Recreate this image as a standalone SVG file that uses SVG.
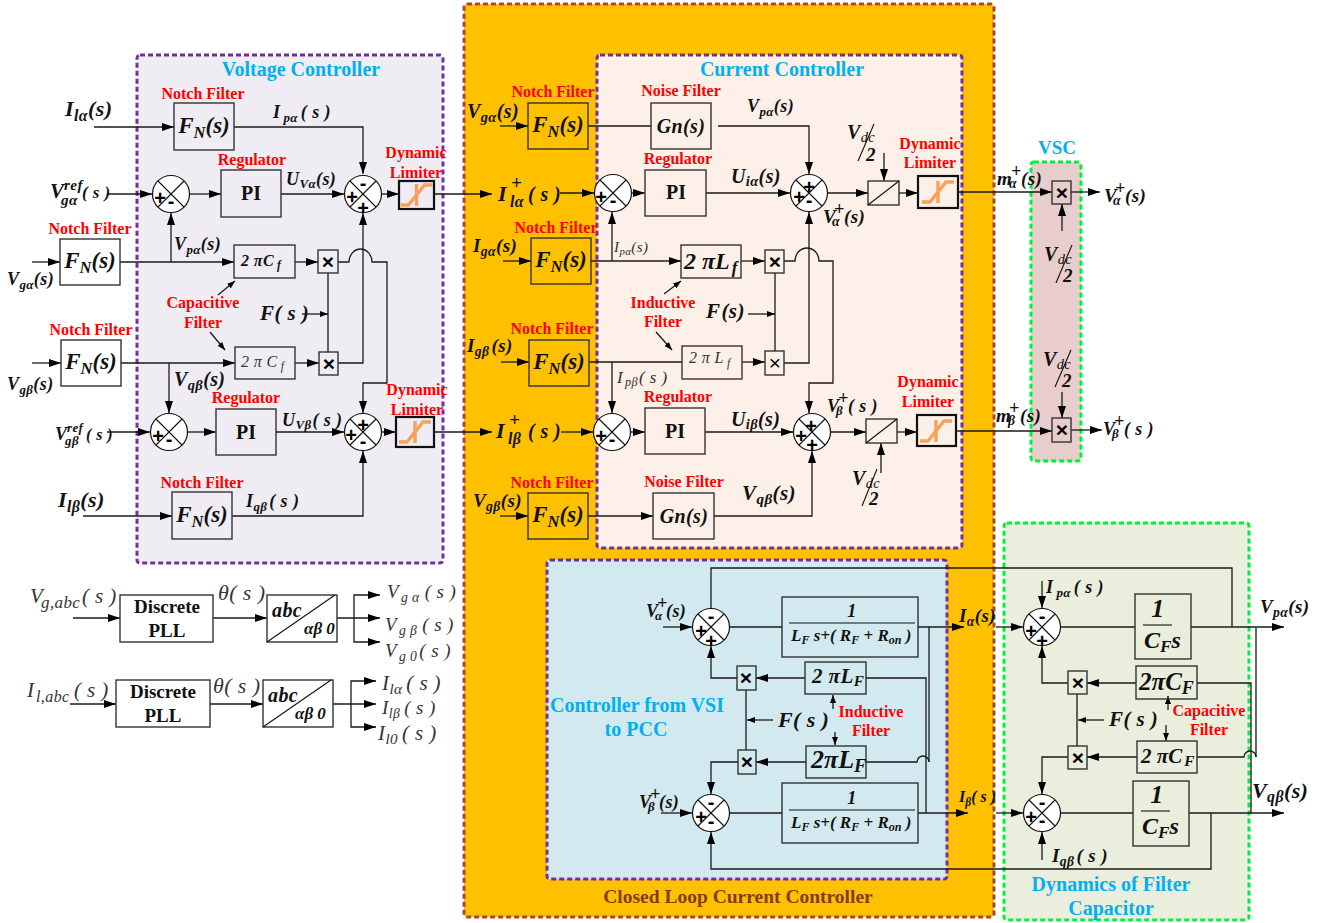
<svg xmlns="http://www.w3.org/2000/svg" width="1317" height="923" viewBox="0 0 1317 923">
<style>
text{font-family:"Liberation Serif","Times New Roman",serif;fill:#111}
.m{font-style:italic;font-weight:bold;font-size:19px;letter-spacing:.4px}
.th{font-style:italic;font-weight:normal;fill:#333;letter-spacing:.4px}
.u{font-size:.72em}
.r{font-weight:bold;font-size:16px;fill:#FF0000;text-anchor:middle}
.t{font-weight:bold;font-size:20px;fill:#00B0F0;text-anchor:middle}
.mid{text-anchor:middle}
.fn{font-size:23px;letter-spacing:0}
.sg{font-family:"Liberation Sans",Arial,sans-serif;font-weight:bold;font-size:20px;text-anchor:middle;fill:#000}
.x{font-family:"Liberation Sans",Arial,sans-serif;font-weight:bold;font-size:21px;text-anchor:middle;fill:#000}
.c{fill:none;stroke:#1a1a1a;stroke-width:1.3}
.a{marker-end:url(#ah)}
.s{marker-end:url(#as)}
.bx{fill:none;stroke:#333;stroke-width:1.4}
.lm{fill:none;stroke:#111;stroke-width:2.2}
.sum{fill:#fff;stroke:#111;stroke-width:1.2}
.pd{stroke:#7030A0;stroke-width:3;stroke-dasharray:5 3}
.gd{stroke:#00F03C;stroke-width:3;stroke-dasharray:5 3}
.fl{fill:none;stroke:#111;stroke-width:1.1}
</style>
<defs>
<marker id="ah" viewBox="0 0 12 8" refX="12" refY="4" markerWidth="12" markerHeight="8" markerUnits="userSpaceOnUse" orient="auto"><path d="M0,0L12,4L0,8z" fill="#000"/></marker>
<marker id="as" viewBox="0 0 8 6" refX="8" refY="3" markerWidth="8" markerHeight="6" markerUnits="userSpaceOnUse" orient="auto"><path d="M0,0L8,3L0,6z" fill="#000"/></marker>
<g id="sumj"><circle r="18.5" class="sum"/><path d="M-13,-13L13,13M13,-13L-13,13" stroke="#111" stroke-width="1.1" fill="none"/></g>
<g id="limi"><path d="M-16,10H-8L8,-10H16M0,-11V11" fill="none" stroke="#F5A35C" stroke-width="3.5"/></g>
</defs>

<g id="containers">
<rect x="464" y="4" width="530" height="913" rx="3" fill="#FFC000" stroke="#A5473A" stroke-width="3" stroke-dasharray="5 3"/>
<rect x="137" y="55" width="306" height="508" rx="3" fill="#EFEDF3" class="pd"/>
<rect x="597" y="55" width="365" height="493" rx="3" fill="#FDF0E8" class="pd"/>
<rect x="547" y="560" width="400" height="319" rx="3" fill="#D2E9EF" class="pd"/>
<rect x="1031" y="162" width="50" height="299" rx="3" fill="#E9CCCC" class="gd"/>
<rect x="1004" y="523" width="245" height="397" rx="3" fill="#EAEEDD" class="gd"/>
</g>

<g id="connectors">
<path class="c a" d="M94,127H174"/>
<path class="c a" d="M234,127H363V174"/>
<path class="c a" d="M107,194H152"/>
<path class="c a" d="M190,194H221"/>
<path class="c a" d="M281,194H344"/>
<path class="c a" d="M382,194H399"/>
<path class="c a" d="M434,194H492"/>
<path class="c a" d="M32,262H60"/>
<path class="c a" d="M120,262H234"/>
<path class="c a" d="M171,262V213"/>
<path class="c a" d="M295,262H318"/>
<path class="c a" d="M338,262H349A11.5,13 0 0 1 372,262H387V383H363V413"/>
<path class="c a" d="M338,363H363V213"/>
<path class="c" d="M328,273V352"/>
<path class="c s" d="M302,314H328"/>
<path class="c s" d="M218,295L235,281"/>
<path class="c s" d="M210,332L225,350"/>
<path class="c a" d="M32,363H61"/>
<path class="c a" d="M121,363H235"/>
<path class="c a" d="M295,363H319"/>
<path class="c a" d="M169,363V413"/>
<path class="c a" d="M107,432H150"/>
<path class="c a" d="M188,432H216"/>
<path class="c a" d="M276,432H344"/>
<path class="c a" d="M382,432H396"/>
<path class="c a" d="M434,432H492"/>
<path class="c a" d="M83,516H172"/>
<path class="c a" d="M232,516H363V451"/>
<path class="c a" d="M500,126H528"/>
<path class="c" d="M588,126H651"/>
<path class="c a" d="M718,126H809V174"/>
<path class="c a" d="M560,193H594"/>
<path class="c a" d="M632,193H645"/>
<path class="c a" d="M706,193H790"/>
<path class="c a" d="M828,193H868"/>
<path class="c a" d="M899,193H918"/>
<path class="c a" d="M958,192H1052"/>
<path class="c a" d="M1071,192H1100"/>
<path class="c a" d="M884,153V181"/>
<path class="c a" d="M503,261H531"/>
<path class="c a" d="M591,261H681"/>
<path class="c a" d="M612,261V212"/>
<path class="c a" d="M741,261H765"/>
<path class="c a" d="M784,261H795A12,13 0 0 1 819,261H833V383H809V413"/>
<path class="c" d="M775,273V351"/>
<path class="c s" d="M748,314H775"/>
<path class="c s" d="M664,294L681,281"/>
<path class="c s" d="M656,332L672,350"/>
<path class="c a" d="M501,362H529"/>
<path class="c" d="M589,362H682"/>
<path class="c a" d="M742,362H765"/>
<path class="c a" d="M784,363H809V212"/>
<path class="c a" d="M612,362V413"/>
<path class="c a" d="M561,432H593"/>
<path class="c a" d="M631,432H645"/>
<path class="c a" d="M705,432H793"/>
<path class="c a" d="M831,432H866"/>
<path class="c a" d="M897,432H917"/>
<path class="c a" d="M956,431H1052"/>
<path class="c a" d="M1071,430H1102"/>
<path class="c a" d="M881,473V443"/>
<path class="c a" d="M1062,231V204"/>
<path class="c a" d="M1062,392V418"/>
<path class="c a" d="M500,516H528"/>
<path class="c a" d="M588,516H653"/>
<path class="c a" d="M714,516H812V451"/>
<path class="c a" d="M73,618H120"/>
<path class="c a" d="M213,618H267"/>
<path class="c a" d="M337,618H380"/>
<path class="c a" d="M354,618V595H380"/>
<path class="c a" d="M354,618V642H380"/>
<path class="c a" d="M70,704H116"/>
<path class="c a" d="M210,704H263"/>
<path class="c a" d="M333,704H376"/>
<path class="c a" d="M351,704V681H376"/>
<path class="c a" d="M351,704V727H376"/>
<path class="c" d="M711,608V568H1232V627"/>
<path class="c a" d="M663,627H692"/>
<path class="c" d="M730,627H782"/>
<path class="c a" d="M918,627H964"/>
<path class="c a" d="M996,627H1023"/>
<path class="c" d="M929,627V762"/>
<path class="c" d="M866,762H917A6,6 0 0 1 929,762"/>
<path class="c" d="M866,678H926V813"/>
<path class="c a" d="M805,678H756"/>
<path class="c a" d="M737,678H711V646"/>
<path class="c a" d="M806,762H756"/>
<path class="c a" d="M738,762H711V794"/>
<path class="c" d="M746,690V750"/>
<path class="c s" d="M773,720H747"/>
<path class="c s" d="M833,709V695"/>
<path class="c s" d="M835,732V745"/>
<path class="c a" d="M661,813H692"/>
<path class="c" d="M730,813H782"/>
<path class="c a" d="M918,813H968"/>
<path class="c a" d="M996,813H1023"/>
<path class="c a" d="M1211,813V869H711V832"/>
<path class="c a" d="M1042,581V608"/>
<path class="c" d="M1061,627H1135"/>
<path class="c a" d="M1191,627H1284"/>
<path d="M1256,627V757" fill="none" stroke="#555" stroke-width="1.8"/>
<path class="c" d="M1197,757H1244A6,6 0 0 1 1256,757"/>
<path class="c" d="M1197,683H1251V813"/>
<path class="c a" d="M1136,683H1087"/>
<path class="c a" d="M1068,683H1042V646"/>
<path class="c a" d="M1137,757H1087"/>
<path class="c a" d="M1068,757H1042V794"/>
<path class="c" d="M1077,694V746"/>
<path class="c s" d="M1104,720H1078"/>
<path class="c s" d="M1168,710V696"/>
<path class="c s" d="M1166,725V741"/>
<path class="c" d="M1061,813H1133"/>
<path class="c a" d="M1189,813H1284"/>
<path class="c a" d="M1042,860V832"/>
</g>

<g id="titles">
<text class="t" x="301" y="76">Voltage Controller</text>
<text class="t" x="782" y="76">Current Controller</text>
<text class="t" x="1057" y="154" style="font-size:19px">VSC</text>
<text class="t" x="637" y="712">Controller from VSI</text>
<text class="t" x="636" y="736">to PCC</text>
<text class="t" x="738" y="903" style="fill:#843C0C;font-size:19.5px">Closed Loop Current Controller</text>
<text class="t" x="1111" y="891">Dynamics of Filter</text>
<text class="t" x="1111" y="915">Capacitor</text>
<text class="r" x="203" y="99">Notch Filter</text>
<text class="r" x="252" y="165">Regulator</text>
<text class="r" x="416" y="158">Dynamic</text>
<text class="r" x="416" y="178">Limiter</text>
<text class="r" x="90" y="234">Notch Filter</text>
<text class="r" x="203" y="308">Capacitive</text>
<text class="r" x="203" y="328">Filter</text>
<text class="r" x="91" y="335">Notch Filter</text>
<text class="r" x="246" y="403">Regulator</text>
<text class="r" x="417" y="395">Dynamic</text>
<text class="r" x="417" y="415">Limiter</text>
<text class="r" x="202" y="488">Notch Filter</text>
<text class="r" x="553" y="97">Notch Filter</text>
<text class="r" x="681" y="96">Noise Filter</text>
<text class="r" x="678" y="164">Regulator</text>
<text class="r" x="930" y="149">Dynamic</text>
<text class="r" x="930" y="168">Limiter</text>
<text class="r" x="556" y="233">Notch Filter</text>
<text class="r" x="663" y="308">Inductive</text>
<text class="r" x="663" y="327">Filter</text>
<text class="r" x="552" y="334">Notch Filter</text>
<text class="r" x="678" y="402">Regulator</text>
<text class="r" x="928" y="387">Dynamic</text>
<text class="r" x="928" y="407">Limiter</text>
<text class="r" x="552" y="488">Notch Filter</text>
<text class="r" x="684" y="487">Noise Filter</text>
<text class="r" x="871" y="717">Inductive</text>
<text class="r" x="871" y="736">Filter</text>
<text class="r" x="1209" y="716">Capacitive</text>
<text class="r" x="1209" y="735">Filter</text>
</g>

<g id="signals">
<text class="m" x="65" y="116" style="font-size:22px">I<tspan class="u" dy="5">lα</tspan><tspan dy="-5">(s)</tspan></text>
<text class="m" x="273" y="118" style="font-size:18px">I<tspan class="u" dy="4" dx="3">pα</tspan><tspan dy="-4" dx="3">( s )</tspan></text>
<text class="m" x="50" y="198" style="font-size:21px">V<tspan class="u" x="64" dy="-8">ref</tspan><tspan class="u" x="61" dy="15">gα</tspan><tspan x="82" dy="-7" style="font-size:17px">( s )</tspan></text>
<text class="m" x="286" y="185" style="font-size:18px">U<tspan class="u" dy="3">Vα</tspan><tspan dy="-3">(s)</tspan></text>
<text class="m" x="174" y="250" style="font-size:18px">V<tspan class="u" dy="4">pα</tspan><tspan dy="-4">(s)</tspan></text>
<text class="m" x="7" y="285" style="font-size:18px">V<tspan class="u" dy="4">gα</tspan><tspan dy="-4">(s)</tspan></text>
<text class="m" x="260" y="320" style="font-size:21px">F<tspan>( s )</tspan></text>
<text class="m" x="7" y="390" style="font-size:18px">V<tspan class="u" dy="4">gβ</tspan><tspan dy="-4">(s)</tspan></text>
<text class="m" x="174" y="386" style="font-size:20px">V<tspan class="u" dy="4">qβ</tspan><tspan dy="-4">(s)</tspan></text>
<text class="m" x="55" y="440" style="font-size:18px">V<tspan class="u" x="67" dy="-8">ref</tspan><tspan class="u" x="65" dy="13">gβ</tspan><tspan x="86" dy="-5" style="font-size:16px">( s )</tspan></text>
<text class="m" x="282" y="426" style="font-size:18px">U<tspan class="u" dy="3">Vβ</tspan><tspan dy="-3" dx="1">( s )</tspan></text>
<text class="m" x="58" y="507" style="font-size:22px">I<tspan class="u" dy="5">lβ</tspan><tspan dy="-5">(s)</tspan></text>
<text class="m" x="246" y="507" style="font-size:18px">I<tspan class="u" dy="4">qβ</tspan><tspan dy="-4" dx="2">( s )</tspan></text>

<text class="m" x="467" y="118" style="font-size:20px">V<tspan class="u" dy="4">gα</tspan><tspan dy="-4">(s)</tspan></text>
<text class="m" x="747" y="112" style="font-size:18px">V<tspan class="u" dy="4">pα</tspan><tspan dy="-4">(s)</tspan></text>
<text class="m" x="498" y="201" style="font-size:22px">I<tspan class="u" x="510" dy="6">lα</tspan><tspan x="511" dy="-18" style="font-size:19px">+</tspan><tspan x="528" dy="12" style="font-size:20px">( s )</tspan></text>
<text class="m" x="731" y="183" style="font-size:20px">U<tspan class="u" dy="3">iα</tspan><tspan dy="-3">(s)</tspan></text>
<text class="m" x="823" y="223" style="font-size:19px">V<tspan class="u" x="832" dy="3">α</tspan><tspan x="834" dy="-11" style="font-size:18px">+</tspan><tspan x="844" dy="8">(s)</tspan></text>
<text class="m" x="473" y="252" style="font-size:19px">I<tspan class="u" dy="4">gα</tspan><tspan dy="-4">(s)</tspan></text>
<text class="th" x="614" y="252" style="font-size:15px">I<tspan class="u" dy="3">pα</tspan><tspan dy="-3">(s)</tspan></text>
<text class="m" x="706" y="318" style="font-size:21px">F<tspan dx="1">(s)</tspan></text>
<text class="m" x="467" y="352" style="font-size:19px">I<tspan class="u" dy="4">gβ</tspan><tspan dy="-4" dx="2">(s)</tspan></text>
<text class="th" x="617" y="383" style="font-size:17px">I<tspan class="u" dy="3" dx="2">pβ</tspan><tspan dy="-3" dx="1">( s )</tspan></text>
<text class="m" x="496" y="438" style="font-size:22px">I<tspan class="u" x="508" dy="6">lβ</tspan><tspan x="509" dy="-18" style="font-size:19px">+</tspan><tspan x="528" dy="12" style="font-size:20px">( s )</tspan></text>
<text class="m" x="731" y="426" style="font-size:20px">U<tspan class="u" dy="3">iβ</tspan><tspan dy="-3">(s)</tspan></text>
<text class="m" x="827" y="412" style="font-size:18px">V<tspan class="u" x="836" dy="3">β</tspan><tspan x="838" dy="-11" style="font-size:18px">+</tspan><tspan x="848" dy="8">( s )</tspan></text>
<text class="m" x="473" y="507" style="font-size:19px">V<tspan class="u" dy="4">gβ</tspan><tspan dy="-4">(s)</tspan></text>
<text class="m" x="742" y="500" style="font-size:21px">V<tspan class="u" dy="4">qβ</tspan><tspan dy="-4">(s)</tspan></text>
<text class="m" x="997" y="185" style="font-size:19px">m<tspan class="u" x="1009" dy="3">α</tspan><tspan x="1011" dy="-11" style="font-size:18px">+</tspan><tspan x="1021" dy="8">(s)</tspan></text>
<text class="m" x="996" y="422" style="font-size:19px">m<tspan class="u" x="1008" dy="3">β</tspan><tspan x="1009" dy="-11" style="font-size:18px">+</tspan><tspan x="1020" dy="8">(s)</tspan></text>
<text class="m" x="1104" y="202" style="font-size:19px">V<tspan class="u" x="1113" dy="3">α</tspan><tspan x="1115" dy="-11" style="font-size:18px">+</tspan><tspan x="1125" dy="8">(s)</tspan></text>
<text class="m" x="1103" y="435" style="font-size:18px">V<tspan class="u" x="1112" dy="3">β</tspan><tspan x="1114" dy="-11" style="font-size:18px">+</tspan><tspan x="1124" dy="8">( s )</tspan></text>

<text class="m" x="847" y="139" style="font-size:20px">V<tspan class="u" dy="3" style="font-weight:normal">dc</tspan></text><path class="fl" d="M874,124L858,161"/><text class="m" x="866" y="161" style="font-size:19px">2</text>
<text class="m" x="852" y="485" style="font-size:20px">V<tspan class="u" dy="3" style="font-weight:normal">dc</tspan></text><path class="fl" d="M877,469L862,506"/><text class="m" x="869" y="505" style="font-size:19px">2</text>
<text class="m" x="1044" y="261" style="font-size:20px">V<tspan class="u" dy="3" style="font-weight:normal">dc</tspan></text><path class="fl" d="M1072,245L1056,283"/><text class="m" x="1063" y="282" style="font-size:19px">2</text>
<text class="m" x="1043" y="366" style="font-size:20px">V<tspan class="u" dy="3" style="font-weight:normal">dc</tspan></text><path class="fl" d="M1071,350L1055,387"/><text class="m" x="1062" y="387" style="font-size:19px">2</text>

<text class="th" x="30" y="603" style="font-size:21px">V<tspan x="41" dy="5" style="font-size:17px">g,abc</tspan><tspan dy="-5" x="82">( s )</tspan></text>
<text class="th" x="218" y="600" style="font-size:22px">θ( s )</text>
<text class="th" x="387" y="598" style="font-size:19px">V<tspan class="u" dy="4" dx="2">g α</tspan><tspan dy="-4" dx="5">( s )</tspan></text>
<text class="th" x="385" y="631" style="font-size:19px">V<tspan class="u" dy="4" dx="2">g β</tspan><tspan dy="-4" dx="5">( s )</tspan></text>
<text class="th" x="385" y="657" style="font-size:19px">V<tspan class="u" dy="4" dx="2">g 0</tspan><tspan dy="-4" dx="2">( s )</tspan></text>
<text class="th" x="27" y="697" style="font-size:21px">I<tspan x="36" dy="5" style="font-size:16px">l,abc</tspan><tspan dy="-5" x="74">( s )</tspan></text>
<text class="th" x="213" y="693" style="font-size:22px">θ( s )</text>
<text class="th" x="382" y="690" style="font-size:21px">I<tspan class="u" dy="4">lα</tspan><tspan dy="-4" dx="4">( s )</tspan></text>
<text class="th" x="382" y="714" style="font-size:19px">I<tspan class="u" dy="4">lβ</tspan><tspan dy="-4" dx="4">( s )</tspan></text>
<text class="th" x="378" y="740" style="font-size:21px">I<tspan class="u" dy="4">l0</tspan><tspan dy="-4" dx="4">( s )</tspan></text>

<text class="m" x="646" y="617" style="font-size:18px">V<tspan class="u" x="655" dy="3">α</tspan><tspan x="657" dy="-11">+</tspan><tspan x="666" dy="8">(s)</tspan></text>
<text class="m" x="639" y="808" style="font-size:18px">V<tspan class="u" x="648" dy="3">β</tspan><tspan x="650" dy="-11">+</tspan><tspan x="659" dy="8">(s)</tspan></text>
<text class="m" x="778" y="727" style="font-size:22px">F<tspan>( s )</tspan></text>
<text class="m" x="959" y="622" style="font-size:19px">I<tspan class="u" dy="4">α</tspan><tspan dy="-4">(s)</tspan></text>
<text class="m" x="959" y="802" style="font-size:16px;letter-spacing:0">I<tspan class="u" dy="4">β</tspan><tspan dy="-4">( s )</tspan></text>
<text class="m" x="1046" y="593" style="font-size:18px">I<tspan class="u" dy="4" dx="3">pα</tspan><tspan dy="-4" dx="3">( s )</tspan></text>
<text class="m" x="1109" y="726" style="font-size:21px">F<tspan>( s )</tspan></text>
<text class="m" x="1260" y="613" style="font-size:19px">V<tspan class="u" dy="4">pα</tspan><tspan dy="-4">(s)</tspan></text>
<text class="m" x="1252" y="798" style="font-size:22px">V<tspan class="u" dy="4">qβ</tspan><tspan dy="-4">(s)</tspan></text>
<text class="m" x="1052" y="862" style="font-size:19px">I<tspan class="u" dy="4">qβ</tspan><tspan dy="-4" dx="2">( s )</tspan></text>
</g>

<g id="fn-ila"><rect class="bx" x="174" y="103" width="60" height="47"/><text class="m mid fn" x="204" y="133">F<tspan class="u" dy="5">N</tspan><tspan dy="-5">(s)</tspan></text></g>
<g id="sum-v1"><use href="#sumj" x="171" y="194"/><text class="sg" x="160" y="205">+</text><text class="sg" x="171" y="208">-</text></g>
<g id="pi-v1"><rect class="bx" x="221" y="170" width="60" height="47"/><text class="mid" x="251" y="200" style="font-weight:bold;font-size:20px">PI</text></g>
<g id="sum-v2"><use href="#sumj" x="363" y="194"/><text class="sg" x="363" y="190">-</text><text class="sg" x="352" y="204">+</text><text class="sg" x="363" y="215">+</text></g>
<g id="lim-v1"><rect class="lm" x="399" y="181" width="35" height="28"/><use href="#limi" x="416.5" y="195"/></g>
<g id="fn-vga"><rect class="bx" x="60" y="239" width="60" height="46"/><text class="m mid fn" x="90" y="268">F<tspan class="u" dy="5">N</tspan><tspan dy="-5">(s)</tspan></text></g>
<g id="cf-v1"><rect class="bx" x="234" y="245" width="61" height="33"/><text class="m" x="241" y="266" style="font-size:16px">2 πC<tspan class="u" dy="3" dx="3">f</tspan></text></g>
<g id="mul-v1"><rect class="bx" x="318" y="250" width="20" height="23"/><text class="x" x="328" y="269">×</text></g>
<g id="fn-vgb"><rect class="bx" x="61" y="340" width="60" height="46"/><text class="m mid fn" x="91" y="369">F<tspan class="u" dy="5">N</tspan><tspan dy="-5">(s)</tspan></text></g>
<g id="cf-v2"><rect class="bx" x="235" y="347" width="60" height="32"/><text class="th" x="241" y="367" style="font-size:16px">2 π C<tspan class="u" dy="3" dx="3">f</tspan></text></g>
<g id="mul-v2"><rect class="bx" x="319" y="352" width="19" height="23"/><text class="x" x="329" y="371">×</text></g>
<g id="sum-v3"><use href="#sumj" x="169" y="432"/><text class="sg" x="158" y="443">+</text><text class="sg" x="169" y="446">-</text></g>
<g id="pi-v2"><rect class="bx" x="216" y="409" width="60" height="46"/><text class="mid" x="246" y="439" style="font-weight:bold;font-size:20px">PI</text></g>
<g id="sum-v4"><use href="#sumj" x="363" y="432"/><text class="sg" x="363" y="432">+</text><text class="sg" x="351" y="442">+</text><text class="sg" x="363" y="448">-</text></g>
<g id="lim-v2"><rect class="lm" x="396" y="417" width="38" height="30"/><use href="#limi" x="415" y="432"/></g>
<g id="fn-ilb"><rect class="bx" x="172" y="492" width="60" height="47"/><text class="m mid fn" x="202" y="522">F<tspan class="u" dy="5">N</tspan><tspan dy="-5">(s)</tspan></text></g>

<g id="fn-c1"><rect class="bx" x="528" y="103" width="60" height="46"/><text class="m mid fn" x="558" y="132">F<tspan class="u" dy="5">N</tspan><tspan dy="-5">(s)</tspan></text></g>
<g id="gn-1"><rect class="bx" x="651" y="103" width="60" height="46"/><text class="m mid" x="681" y="133" style="font-size:20px">Gn(s)</text></g>
<g id="sum-c1"><use href="#sumj" x="613" y="193"/><text class="sg" x="601" y="204">+</text><text class="sg" x="613" y="207">-</text></g>
<g id="pi-c1"><rect class="bx" x="645" y="170" width="61" height="46"/><text class="mid" x="676" y="199" style="font-weight:bold;font-size:20px">PI</text></g>
<g id="sum-c2"><use href="#sumj" x="809" y="193"/><text class="sg" x="809" y="194">+</text><text class="sg" x="799" y="204">+</text><text class="sg" x="809" y="207">-</text></g>
<g id="div-c1"><rect class="bx" x="868" y="181" width="31" height="24"/><path class="fl" d="M868,205L899,181"/></g>
<g id="lim-c1"><rect class="lm" x="918" y="176" width="40" height="32"/><use href="#limi" x="938" y="192"/></g>
<g id="fn-c2"><rect class="bx" x="531" y="238" width="60" height="46"/><text class="m mid fn" x="561" y="267">F<tspan class="u" dy="5">N</tspan><tspan dy="-5">(s)</tspan></text></g>
<g id="lf-c1"><rect class="bx" x="681" y="245" width="60" height="33"/><text class="m" x="684" y="269" style="font-size:24px;letter-spacing:0">2 πL<tspan class="u" dy="4" dx="2">f</tspan></text></g>
<g id="mul-c1"><rect class="bx" x="765" y="250" width="19" height="23"/><text class="x" x="775" y="269">×</text></g>
<g id="fn-c3"><rect class="bx" x="529" y="340" width="60" height="46"/><text class="m mid fn" x="559" y="369">F<tspan class="u" dy="5">N</tspan><tspan dy="-5">(s)</tspan></text></g>
<g id="lf-c2"><rect class="bx" x="682" y="346" width="60" height="33"/><text class="th" x="689" y="363" style="font-size:16px">2 π L<tspan class="u" dy="4" dx="3">f</tspan></text></g>
<g id="mul-c2"><rect class="bx" x="765" y="351" width="19" height="24"/><text class="x" x="775" y="370" style="font-weight:normal">×</text></g>
<g id="sum-c3"><use href="#sumj" x="612" y="432"/><text class="sg" x="601" y="443">+</text><text class="sg" x="612" y="446">-</text></g>
<g id="pi-c2"><rect class="bx" x="645" y="408" width="60" height="46"/><text class="mid" x="675" y="438" style="font-weight:bold;font-size:20px">PI</text></g>
<g id="sum-c4"><use href="#sumj" x="812" y="432"/><text class="sg" x="811" y="433">+</text><text class="sg" x="801" y="443">+</text><text class="sg" x="812" y="452">+</text></g>
<g id="div-c2"><rect class="bx" x="866" y="419" width="31" height="24"/><path class="fl" d="M866,443L897,419"/></g>
<g id="lim-c2"><rect class="lm" x="917" y="415" width="39" height="31"/><use href="#limi" x="936" y="431"/></g>
<g id="fn-c4"><rect class="bx" x="528" y="493" width="60" height="46"/><text class="m mid fn" x="558" y="522">F<tspan class="u" dy="5">N</tspan><tspan dy="-5">(s)</tspan></text></g>
<g id="gn-2"><rect class="bx" x="653" y="493" width="61" height="46"/><text class="m mid" x="684" y="523" style="font-size:20px">Gn(s)</text></g>

<g id="mul-vsc1"><rect class="bx" x="1052" y="181" width="19" height="23"/><text class="x" x="1062" y="200">×</text></g>
<g id="mul-vsc2"><rect class="bx" x="1052" y="418" width="19" height="24"/><text class="x" x="1062" y="437">×</text></g>

<g id="pll-1"><rect class="bx" x="120" y="595" width="93" height="47"/><text class="mid" x="167" y="613" style="font-weight:bold;font-size:19px">Discrete</text><text class="mid" x="167" y="637" style="font-weight:bold;font-size:19px">PLL</text></g>
<g id="abc-1"><rect class="bx" x="267" y="595" width="70" height="47"/><path class="fl" d="M267,642L335,595"/><text class="m" x="272" y="617" style="font-size:20px">abc</text><text class="m" x="304" y="634" style="font-size:17px;letter-spacing:0">αβ 0</text></g>
<g id="pll-2"><rect class="bx" x="116" y="680" width="94" height="47"/><text class="mid" x="163" y="698" style="font-weight:bold;font-size:19px">Discrete</text><text class="mid" x="163" y="722" style="font-weight:bold;font-size:19px">PLL</text></g>
<g id="abc-2"><rect class="bx" x="263" y="680" width="70" height="47"/><path class="fl" d="M263,727L331,680"/><text class="m" x="268" y="702" style="font-size:20px">abc</text><text class="m" x="295" y="719" style="font-size:17px;letter-spacing:0">αβ 0</text></g>

<g id="sum-b1"><use href="#sumj" x="711" y="627"/><text class="sg" x="711" y="623">-</text><text class="sg" x="701" y="638">+</text><text class="sg" x="711" y="648">+</text></g>
<g id="tf-b1"><rect class="bx" x="782" y="597" width="136" height="60"/><path class="fl" d="M789,623H915"/><text class="m mid" x="852" y="617" style="font-size:18px">1</text><text class="m" x="791" y="641" style="font-size:17px;letter-spacing:0">L<tspan style="font-size:12px" dy="3">F</tspan><tspan dy="-3"> s+( R</tspan><tspan style="font-size:12px" dy="3">F</tspan><tspan dy="-3"> + R</tspan><tspan style="font-size:12px" dy="3">on</tspan><tspan dy="-3"> )</tspan></text></g>
<g id="lf-b1"><rect class="bx" x="805" y="662" width="61" height="32"/><text class="m" x="812" y="683" style="font-size:21px">2 πL<tspan class="u" dy="3">F</tspan></text></g>
<g id="mul-b1"><rect class="bx" x="737" y="666" width="19" height="24"/><text class="x" x="746" y="685">×</text></g>
<g id="mul-b2"><rect class="bx" x="738" y="750" width="18" height="24"/><text class="x" x="747" y="769">×</text></g>
<g id="lf-b2"><rect class="bx" x="806" y="746" width="60" height="32"/><text class="m" x="811" y="768" style="font-size:26px;letter-spacing:0">2πL<tspan class="u" dy="4">F</tspan></text></g>
<g id="sum-b2"><use href="#sumj" x="711" y="813"/><text class="sg" x="711" y="809">-</text><text class="sg" x="701" y="824">+</text><text class="sg" x="711" y="828">-</text></g>
<g id="tf-b2"><rect class="bx" x="782" y="783" width="136" height="60"/><path class="fl" d="M789,810H915"/><text class="m mid" x="852" y="804" style="font-size:18px">1</text><text class="m" x="791" y="828" style="font-size:17px;letter-spacing:0">L<tspan style="font-size:12px" dy="3">F</tspan><tspan dy="-3"> s+( R</tspan><tspan style="font-size:12px" dy="3">F</tspan><tspan dy="-3"> + R</tspan><tspan style="font-size:12px" dy="3">on</tspan><tspan dy="-3"> )</tspan></text></g>

<g id="sum-d1"><use href="#sumj" x="1042" y="627"/><text class="sg" x="1042" y="623">-</text><text class="sg" x="1031" y="638">+</text><text class="sg" x="1042" y="648">+</text></g>
<g id="tf-d1"><rect class="bx" x="1135" y="594" width="56" height="65"/><path class="fl" d="M1143,625H1172"/><text class="m mid" x="1158" y="617" style="font-size:26px">1</text><text class="m" x="1144" y="648" style="font-size:24px;letter-spacing:0">C<tspan class="u" dy="4">F</tspan><tspan dy="-4">s</tspan></text></g>
<g id="cf-d1"><rect class="bx" x="1136" y="666" width="61" height="33"/><text class="m" x="1139" y="690" style="font-size:25px;letter-spacing:0">2πC<tspan class="u" dy="4">F</tspan></text></g>
<g id="mul-d1"><rect class="bx" x="1068" y="671" width="19" height="23"/><text class="x" x="1078" y="690">×</text></g>
<g id="mul-d2"><rect class="bx" x="1068" y="746" width="19" height="23"/><text class="x" x="1078" y="765">×</text></g>
<g id="cf-d2"><rect class="bx" x="1137" y="741" width="60" height="32"/><text class="m" x="1141" y="763" style="font-size:21px;letter-spacing:0">2 πC<tspan class="u" dy="3" dx="2">F</tspan></text></g>
<g id="sum-d2"><use href="#sumj" x="1042" y="813"/><text class="sg" x="1042" y="809">-</text><text class="sg" x="1031" y="824">+</text><text class="sg" x="1042" y="827">-</text></g>
<g id="tf-d2"><rect class="bx" x="1133" y="781" width="56" height="65"/><path class="fl" d="M1141,811H1170"/><text class="m mid" x="1157" y="803" style="font-size:26px">1</text><text class="m" x="1142" y="834" style="font-size:24px;letter-spacing:0">C<tspan class="u" dy="4">F</tspan><tspan dy="-4">s</tspan></text></g>
</svg>
